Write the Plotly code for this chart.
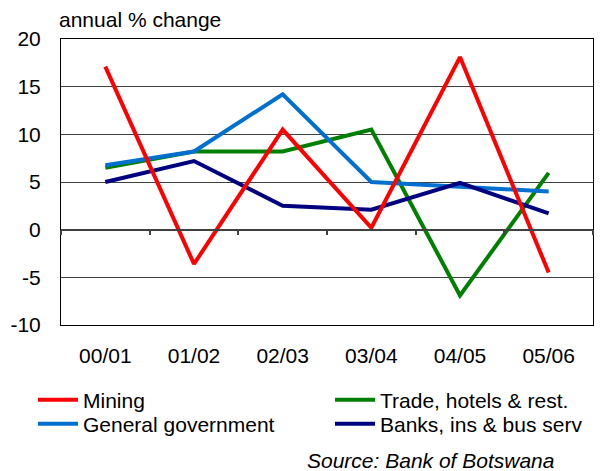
import plotly.graph_objects as go

categories = ["00/01", "01/02", "02/03", "03/04", "04/05", "05/06"]
mining = [17.1, -3.6, 10.5, 0.2, 18.1, -4.5]
trade = [6.5, 8.2, 8.2, 10.5, -6.9, 5.95]
general_gov = [6.75, 8.2, 14.2, 5.0, 4.5, 4.0]
banks = [5.0, 7.2, 2.5, 2.1, 4.9, 1.7]
y_ticks = [-10, -5, 0, 5, 10, 15, 20]
y_tick_labels = ["-10", "-5", "0", "5", "10", "15", "20"]

FONT = "Liberation Sans, Arial, sans-serif"
FS = 21

fig = go.Figure()

series = [
    ("Trade, hotels & rest.", trade, "#008000", "legend2"),
    ("General government", general_gov, "#0070D0", "legend3"),
    ("Banks, ins & bus serv", banks, "#000080", "legend4"),
    ("Mining", mining, "#FF0000", "legend"),
]
for name, vals, col, leg in series:
    fig.add_trace(go.Scatter(x=categories, y=vals, mode="lines", name=name,
                             line=dict(color=col, width=4), legend=leg))

# invisible trace carrying the zero-line category axis (boundary ticks)
fig.add_trace(go.Scatter(x=categories, y=[None] * len(categories), xaxis="x2",
                         showlegend=False, hoverinfo="skip", mode="lines"))

W, H = 603, 471
PL, PR, PT, PB = 61, 593, 39, 325  # plot box in pixels


def fx(xp):
    return xp / W


def fy(yp):
    return (H - yp) / H


ydom = [fy(PB), fy(PT)]
zero_pos = ydom[0] + (0 - (-10)) / 30 * (ydom[1] - ydom[0])

leg_common = dict(orientation="v", xanchor="left", yanchor="middle",
                  font=dict(family=FONT, size=FS, color="black"),
                  bgcolor="rgba(0,0,0,0)", borderwidth=0, itemwidth=40)

fig.update_layout(
    width=W, height=H,
    margin=dict(l=0, r=0, t=0, b=0, autoexpand=False),
    paper_bgcolor="white", plot_bgcolor="white",
    font=dict(family=FONT, size=FS, color="black"),
    legend=dict(x=fx(33), y=fy(400), **leg_common),
    legend2=dict(x=fx(330), y=fy(400), **leg_common),
    legend3=dict(x=fx(33), y=fy(424), **leg_common),
    legend4=dict(x=fx(330), y=fy(424), **leg_common),
    xaxis=dict(type="category", range=[-0.5, 5.5], domain=[fx(PL), fx(PR)],
               showgrid=False, ticks="",
               showline=True, linecolor="black", linewidth=1, mirror=True,
               tickfont=dict(family=FONT, size=FS, color="black"),
               ticklabelstandoff=12, zeroline=False),
    xaxis2=dict(type="category", range=[-0.5, 5.5], overlaying="x", anchor="free",
                position=zero_pos, showline=True, linecolor="#404040", linewidth=1.5,
                ticks="outside", ticklen=5, tickcolor="#404040", tickwidth=1.5,
                tickson="boundaries", showticklabels=False, showgrid=False,
                zeroline=False),
    yaxis=dict(range=[-10, 20], domain=ydom, tickvals=y_ticks, ticktext=y_tick_labels,
               showgrid=True, gridcolor="#404040", gridwidth=1, zeroline=False,
               showline=True, linecolor="black", linewidth=1, mirror=True,
               ticks="", tickfont=dict(family=FONT, size=FS, color="black"),
               ticklabelstandoff=15),
    annotations=[
        dict(text="annual % change", x=fx(57), y=fy(20), xref="paper", yref="paper",
             xanchor="left", yanchor="middle", showarrow=False,
             font=dict(family=FONT, size=FS, color="black")),
        dict(text="<i>Source: Bank of Botswana</i>", x=fx(305), y=fy(460),
             xref="paper", yref="paper", xanchor="left", yanchor="middle",
             showarrow=False, font=dict(family=FONT, size=FS, color="black")),
    ],
)

fig.write_html("out.html", config={"displayModeBar": False},
               post_script="document.body.style.margin='0';document.body.style.overflow='hidden';")
